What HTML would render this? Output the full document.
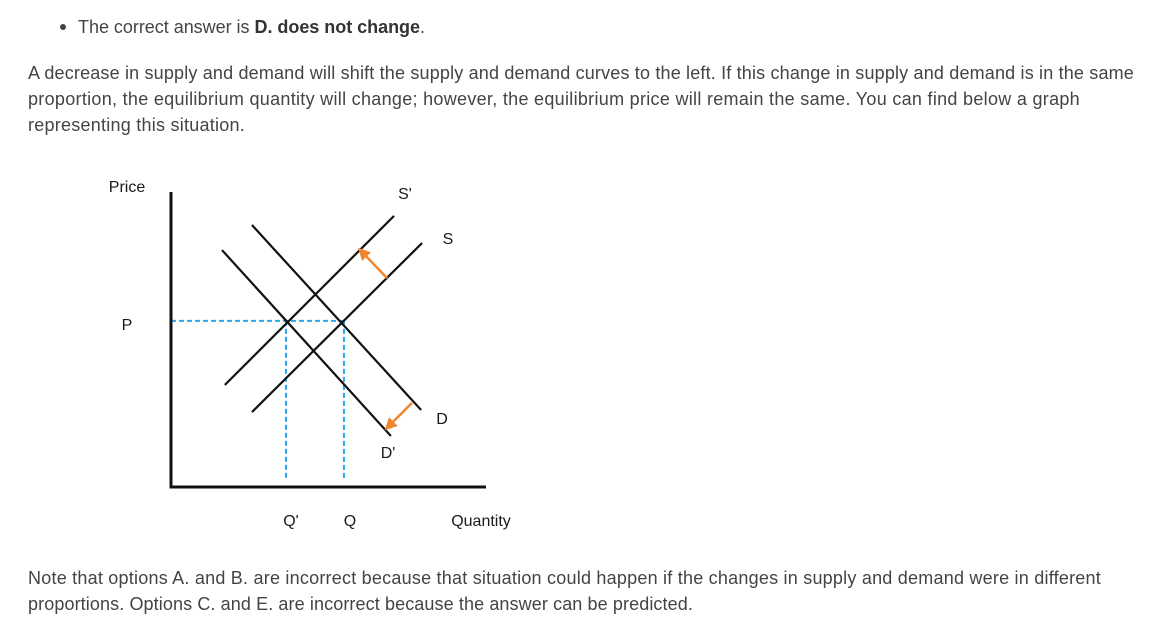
<!DOCTYPE html>
<html><head><meta charset="utf-8"><style>
body{margin:0;width:1157px;height:633px;background:#fff;font-family:"Liberation Sans",sans-serif;color:#444;position:relative;overflow:hidden}
.t{position:absolute;font-size:18px;white-space:nowrap;line-height:20px}
b{color:#333}
</style></head><body>
<div style="position:absolute;left:60px;top:24px;width:6px;height:6px;border-radius:3px;background:#444"></div>
<div class="t fit" data-w="347" style="left:78px;top:17px">The correct answer is <b>D. does not change</b>.</div>
<div class="t fit" data-w="1106" style="left:28px;top:63px">A decrease in supply and demand will shift the supply and demand curves to the left. If this change in supply and demand is in the same</div>
<div class="t fit" data-w="1052" style="left:28px;top:89px">proportion, the equilibrium quantity will change; however, the equilibrium price will remain the same. You can find below a graph</div>
<div class="t fit" data-w="217" style="left:28px;top:115px">representing this situation.</div>
<div class="t fit" data-w="1073" style="left:28px;top:568px">Note that options A. and B. are incorrect because that situation could happen if the changes in supply and demand were in different</div>
<div class="t fit" data-w="665" style="left:28px;top:594px">proportions. Options C. and E. are incorrect because the answer can be predicted.</div>
<svg id="chart" width="1157" height="633" style="position:absolute;left:0;top:0" font-family="Liberation Sans, sans-serif" font-size="16" fill="#1a1a1a"></svg>
<script>
document.querySelectorAll('.fit').forEach(function(el){
  var w=+el.dataset.w, cur=el.getBoundingClientRect().width, n=el.textContent.length;
  el.style.letterSpacing=((w-cur)/n)+'px';
});
var curveNames=["S'","S","D","D'"];
var curveStart=[[1.71,3.46],[2.57,2.54],[2.57,8.88],[1.62,8.03]];
var curveEnd=[[7.08,9.19],[7.97,8.27],[7.94,2.61],[6.98,1.73]];
var eqPrice=5.63;
var eqQuantities=[3.65,5.49];
var qLabels=["Q'","Q"];
var arrowFrom=[[6.86,7.08],[7.65,2.85]];
var arrowTo=[[6.10,7.93],[6.95,2.10]];
var X=function(q){return 171+q*31.5;};
var Y=function(p){return 487-p*29.5;};
var svg=document.getElementById('chart'),NS='http://www.w3.org/2000/svg';
function mk(tag,attrs,name){var e=document.createElementNS(NS,tag);for(var k in attrs)e.setAttribute(k,attrs[k]);


svg.appendChild(e);return e;}
var defs=mk('defs',{},'defs');
defs.innerHTML='<marker id="ah" markerWidth="5" markerHeight="5" refX="2" refY="2.5" orient="auto"><path d="M0,0L5,2.5L0,5z" fill="#f0872f"/></marker>';
mk('line',{x1:X(0),y1:Y(eqPrice),x2:X(eqQuantities[1]),y2:Y(eqPrice),stroke:'#2aa5f2','stroke-width':2,'stroke-dasharray':'5,3'},'price-guide');
eqQuantities.forEach(function(q,i){
  mk('line',{x1:X(q),y1:Y(eqPrice),x2:X(q),y2:Y(0.3),stroke:'#2aa5f2','stroke-width':2,'stroke-dasharray':'5,3'},'quantity-guide');
  var t=mk('text',{x:X(q)+(i?6:5),y:526,'text-anchor':'middle'},'x-tick-label');t.textContent=qLabels[i];
});
curveNames.forEach(function(n,i){
  mk('line',{x1:X(curveStart[i][0]),y1:Y(curveStart[i][1]),x2:X(curveEnd[i][0]),y2:Y(curveEnd[i][1]),stroke:'#111','stroke-width':2.2},'curve-line');
});
arrowFrom.forEach(function(a,i){
  mk('line',{x1:X(a[0]),y1:Y(a[1]),x2:X(arrowTo[i][0]),y2:Y(arrowTo[i][1]),stroke:'#f0872f','stroke-width':2.5,'marker-end':'url(#ah)'},'shift-arrow');
});
mk('line',{x1:171,y1:192,x2:171,y2:488.5,stroke:'#111','stroke-width':3},'y-axis');
mk('line',{x1:169.5,y1:487,x2:486,y2:487,stroke:'#111','stroke-width':3},'x-axis');
var labs=[["S'",405,199],["S",448,244],["D",442,424],["D'",388,458],["P",127,330],["Price",127,192],["Quantity",481,526]];
labs.forEach(function(l){var t=mk('text',{x:l[1],y:l[2],'text-anchor':'middle'},'chart-label');t.textContent=l[0];});
</script>
</body></html>
